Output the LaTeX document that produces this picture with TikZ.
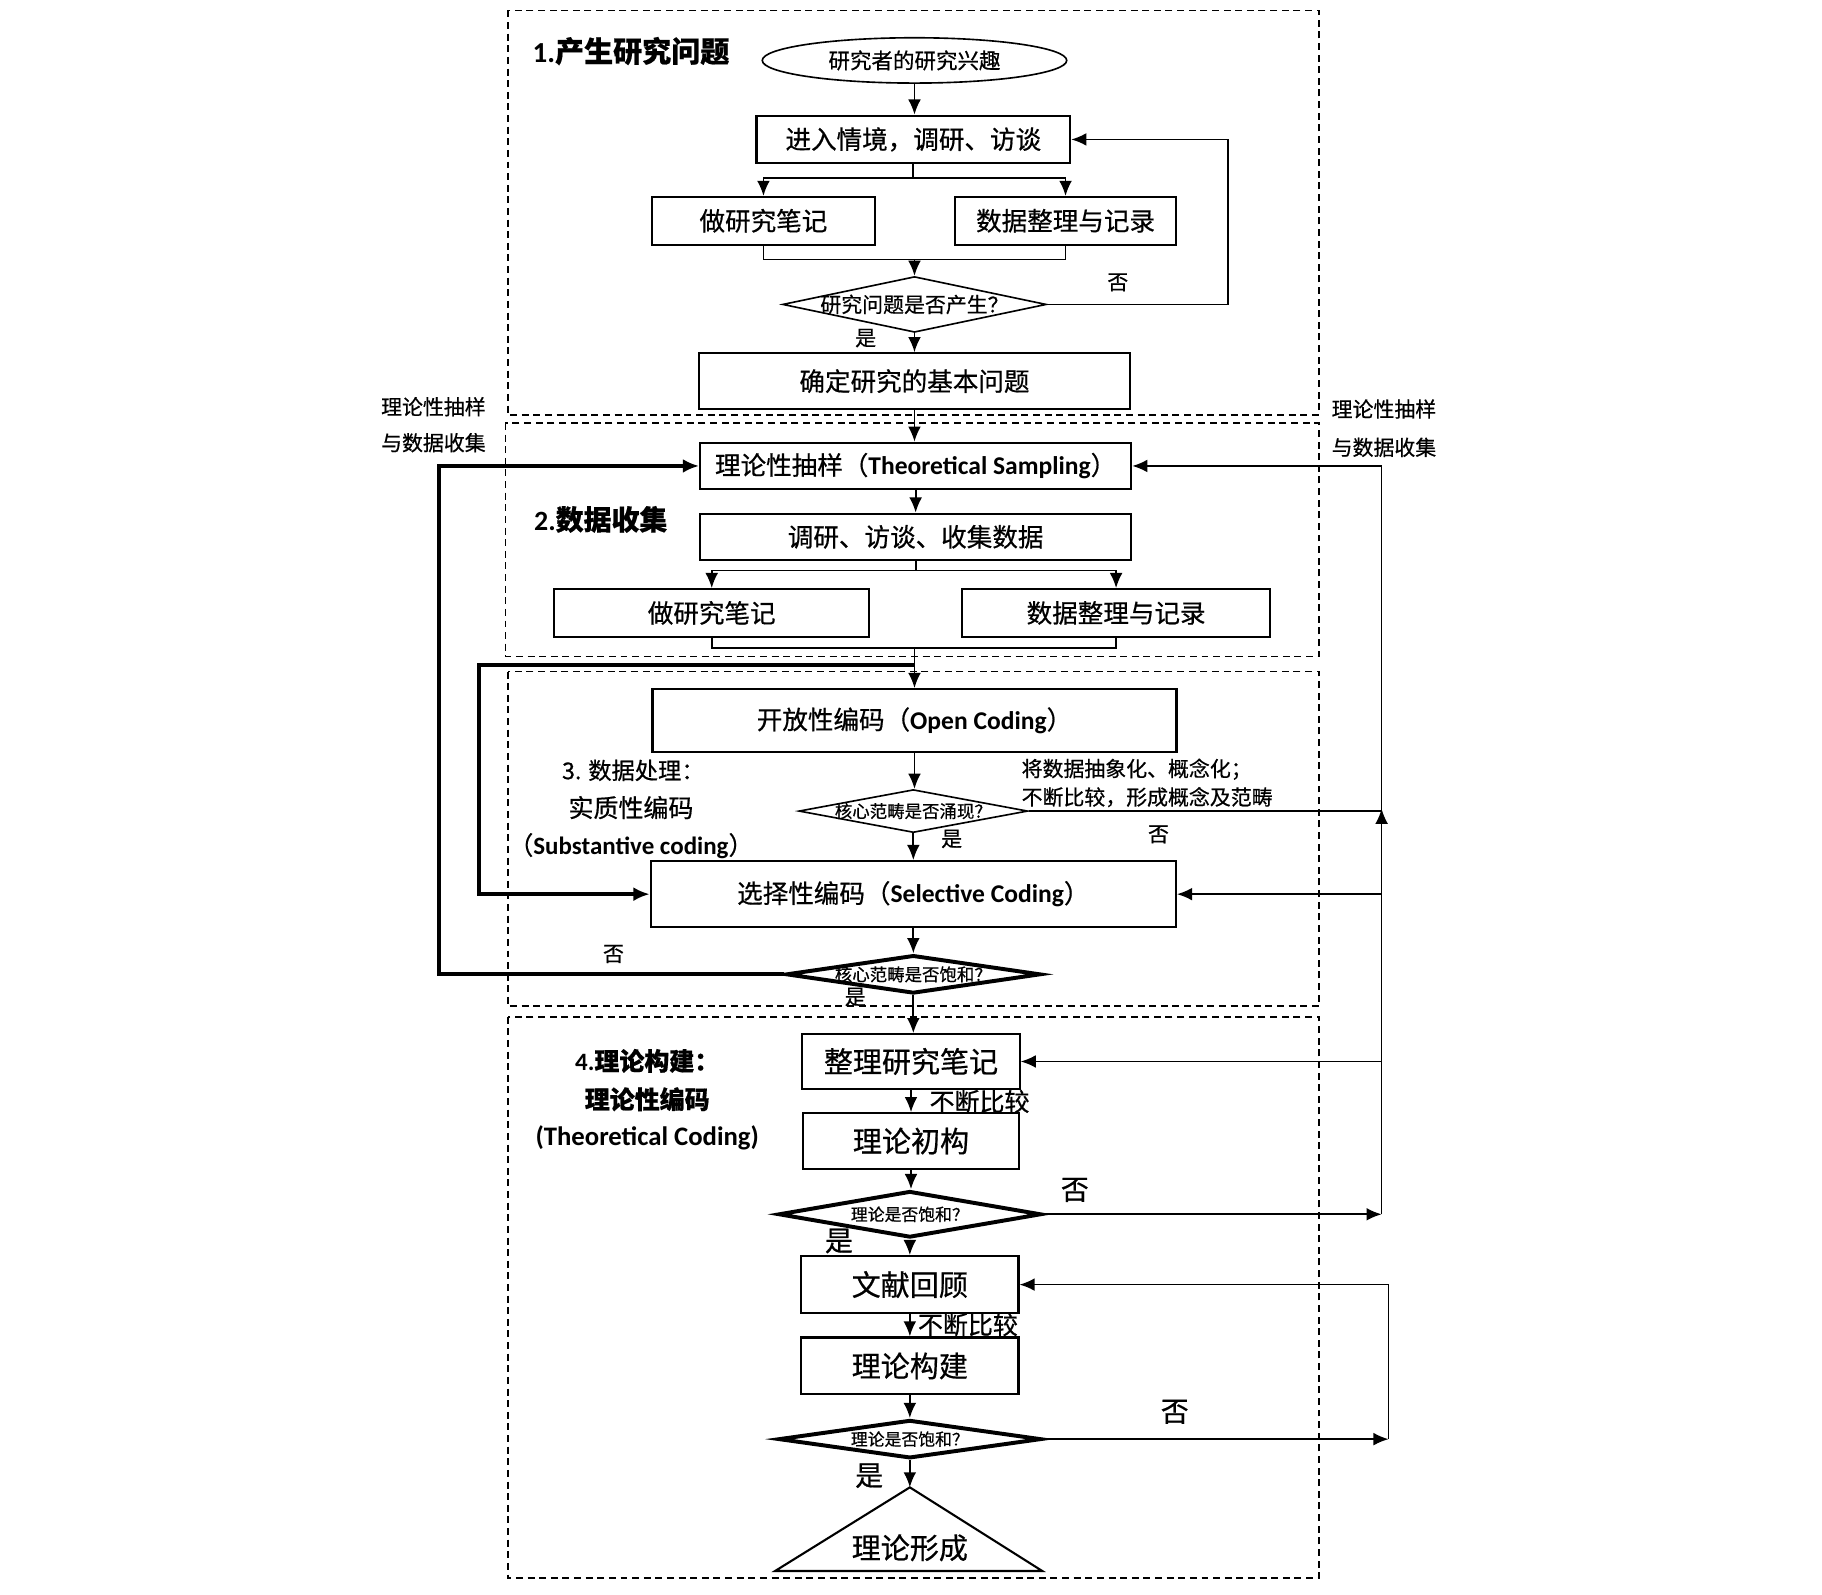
\documentclass[tikz,border=0pt]{standalone}
\usepackage{fontspec}
\setmainfont[FakeBold=0.6]{Noto Sans CJK SC}
\newfontfamily\enf{Carlito}
\newcommand\en[1]{{\enf\bfseries #1}}
\newcommand\zw[1]{\makebox[0pt]{#1}}
\newcommand\fsz[1]{\fontsize{#1}{#1}\selectfont}
\usetikzlibrary{shapes.geometric,arrows.meta}
\begin{document}
\begin{tikzpicture}[x=1pt,y=-1pt,
  box/.style={draw, line width=1.8pt, inner sep=0pt, font=\fsz{22}},
  boxL/.style={box, font=\fsz{25}},
  dia/.style={diamond, draw, line width=1.4pt, inner sep=0pt},
  diaT/.style={dia, line width=3.4pt},
  arr/.style={-{Latex[length=13pt,width=11pt]}, line width=1.5pt},
  line/.style={line width=1.5pt},
  thk/.style={line width=3.2pt},
  frame/.style={dash pattern=on 6pt off 4pt, line width=1.4pt},
  lbl/.style={inner sep=0pt},
  s18/.style={lbl, font=\fsz{18}},
  s24/.style={lbl, font=\fsz{24}}
]
\useasboundingbox[fill=white] (0,0) rectangle (1568,1372);

% dashed frames
\draw[frame] (437,9) rectangle (1135,357);
\draw[frame] (435,364) rectangle (1135,565);
\draw[frame] (437,578) rectangle (1135,866);
\draw[frame] (437,875) rectangle (1135,1358);

% section titles
\node[lbl, font=\fsz{25}\bfseries] (title1) at (543,44) {\en{1.}产生研究问题};
\node[lbl, font=\fsz{24}\bfseries] (title2) at (517,447) {\en{2.}数据收集};
\node[lbl, font=\fsz{20}] (title3a) at (545,663) {3. 数据处理：};
\node[lbl, font=\fsz{21.5}] (title3b) at (543,695) {实质性编码};
\node[lbl, font=\fsz{21.5}] (title3c) at (543,728) {（\en{Substantive coding}）};
\node[lbl, font=\fsz{21.5}\bfseries] (title4a) at (557,913) {\en{4.}理论构建：};
\node[lbl, font=\fsz{21.5}\bfseries] (title4b) at (557,946) {理论性编码};
\node[lbl, font=\fsz{23}] (title4c) at (557,979) {\en{(Theoretical Coding)}};

% side labels
\node[s18] (sideL1) at (373,350) {理论性抽样};
\node[s18] (sideL2) at (373,381) {与数据收集};
\node[s18] (sideR1) at (1191,352) {理论性抽样};
\node[s18] (sideR2) at (1191,385) {与数据收集};

% part 1
\node[ellipse, draw, line width=1.4pt, inner sep=0pt, minimum width=262, minimum height=39, font=\fsz{18.5}] (interest) at (787,52) {\zw{研究者的研究兴趣}};
\node[box, minimum width=270, minimum height=41] (enter) at (786,120) {进入情境，调研、访谈};
\node[box, minimum width=192, minimum height=41] (notes1) at (657,190) {做研究笔记};
\node[box, minimum width=190, minimum height=41] (data1) at (917,190) {数据整理与记录};
\node[dia, minimum width=227, minimum height=48, font=\fsz{18}] (q1) at (787,262) {\zw{研究问题是否产生？}};
\node[box, minimum width=371, minimum height=48] (basic) at (787,328) {确定研究的基本问题};

% part 2
\node[box, minimum width=371, minimum height=40] (ts) at (788,401) {理论性抽样（\en{Theoretical Sampling}）};
\node[box, minimum width=371, minimum height=40] (collect) at (788,462) {调研、访谈、收集数据};
\node[box, minimum width=271, minimum height=41] (notes2) at (612.5,527.5) {做研究笔记};
\node[box, minimum width=265, minimum height=41] (data2) at (960.5,527.5) {数据整理与记录};

% part 3
\node[box, minimum width=451, minimum height=54] (open) at (787,620) {开放性编码（\en{Open Coding}）};
\node[dia, minimum width=197, minimum height=37, font=\fsz{15}] (q2) at (786,698) {\zw{核心范畴是否涌现？}};
\node[box, minimum width=452, minimum height=57] (sel) at (786,769.5) {选择性编码（\en{Selective Coding}）};
\node[diaT, minimum width=219, minimum height=33, font=\fsz{15}] (q3) at (786,838.5) {\zw{核心范畴是否饱和？}};
\node[s18, anchor=west] (abs1) at (879,662) {将数据抽象化、概念化；};
\node[s18, anchor=west] (abs2) at (879,686) {不断比较，形成概念及范畴};

% part 4
\node[boxL, minimum width=187, minimum height=47] (sort) at (784,913.5) {整理研究笔记};
\node[boxL, minimum width=186, minimum height=48] (init) at (784,982) {理论初构};
\node[diaT, minimum width=226, minimum height=40, font=\fsz{14.5}] (q4) at (783,1045) {\zw{理论是否饱和？}};
\node[boxL, minimum width=187, minimum height=49] (lit) at (783,1105.5) {文献回顾};
\node[boxL, minimum width=187, minimum height=49] (build) at (783,1175.5) {理论构建};
\node[diaT, minimum width=226, minimum height=33, font=\fsz{14.5}] (q5) at (783,1238.5) {\zw{理论是否饱和？}};
\coordinate (tri) at (783,1280);
\draw[line width=1.8pt] (tri) -- (667,1352) -- (897,1352) -- cycle;
\node[lbl, font=\fsz{25}] (form) at (783,1332) {理论形成};

% labels
\node[s18] (no1) at (962,243) {否};
\node[s18] (yes1) at (745,291) {是};
\node[s18] (no2) at (997,718) {否};
\node[s18] (yes2) at (819,722) {是};
\node[s18] (no3) at (528,821) {否};
\node[s18] (yes3) at (736,858) {是};
\node[lbl, font=\fsz{21.5}] (cmp1) at (843,948) {不断比较};
\node[s24] (no4) at (925,1024) {否};
\node[s24] (yes4) at (722,1068) {是};
\node[lbl, font=\fsz{21.5}] (cmp2) at (833,1140) {不断比较};
\node[s24] (no5) at (1011,1215) {否};
\node[s24] (yes5) at (748,1270) {是};

% connectors part 1
\draw[arr] (interest.south) -- (interest.south |- enter.north);
\draw[line] (enter.south) -- ++(0,12) coordinate (e1);
\draw[line] (e1 -| notes1.north) -- (e1 -| data1.north);
\draw[arr] (e1 -| notes1.north) -- (notes1.north);
\draw[arr] (e1 -| data1.north) -- (data1.north);
\draw[line] (notes1.south) -- ++(0,12) coordinate (m1) -- (m1 -| data1.south) -- (data1.south);
\draw[arr] (m1 -| q1.north) -- (q1.north);
\coordinate (loop1) at (1057,262);
\draw[arr] (q1.east) -- (loop1) |- (enter.east);
\draw[arr] (q1.south) -- (q1.south |- basic.north);
\draw[arr] (basic.south) -- (basic.south |- ts.north);

% connectors part 2
\draw[arr] (ts.south) -- (ts.south |- collect.north);
\draw[line] (collect.south) -- ++(0,8) coordinate (e2);
\draw[line] (e2 -| notes2.north) -- (e2 -| data2.north);
\draw[arr] (e2 -| notes2.north) -- (notes2.north);
\draw[arr] (e2 -| data2.north) -- (data2.north);
\draw[line] (notes2.south) -- ++(0,9) coordinate (m2) -- (m2 -| data2.south) -- (data2.south);
\draw[arr] (m2 -| open.north) -- (open.north);

% connectors part 3
\coordinate (jL) at (412,572);
\draw[thk, -{Latex[length=14pt,width=12pt]}] (jL -| open.north) -- (jL) |- (sel.west);
\draw[arr] (open.south) -- (open.south |- q2.north);
\draw[arr] (q2.south) -- (q2.south |- sel.north);
\draw[arr] (sel.south) -- (sel.south |- q3.north);
\coordinate (jL2) at (378,838.5);
\draw[thk, -{Latex[length=14pt,width=12pt]}] (q3.west) -- (jL2) |- (ts.west);

% right bus
\coordinate (bus) at (1189,0);
\draw[arr] (q2.east) -- (q2.east -| bus) |- (ts.east);
\draw[arr] (q4.east -| bus) -- ([yshift=2pt]q2.east -| bus);
\draw[arr] (q4.east) -- (q4.east -| bus);
\draw[arr] (sel.east -| bus) -- (sel.east);
\draw[arr] (sort.east -| bus) -- (sort.east);

% connectors part 4
\draw[arr] (q3.south) -- (q3.south |- sort.north);
\draw[arr] (sort.south) -- (sort.south |- init.north);
\draw[arr] (init.south) -- (init.south |- q4.north);
\draw[arr] (q4.south) -- (q4.south |- lit.north);
\draw[arr] (lit.south) -- (lit.south |- build.north);
\draw[arr] (build.south) -- (build.south |- q5.north);
\draw[arr] (q5.south) -- (tri);
\coordinate (bus2) at (1195,0);
\draw[arr] (q5.east) -- (q5.east -| bus2);
\draw[arr] (q5.east -| bus2) |- (lit.east);
\end{tikzpicture}
\end{document}
